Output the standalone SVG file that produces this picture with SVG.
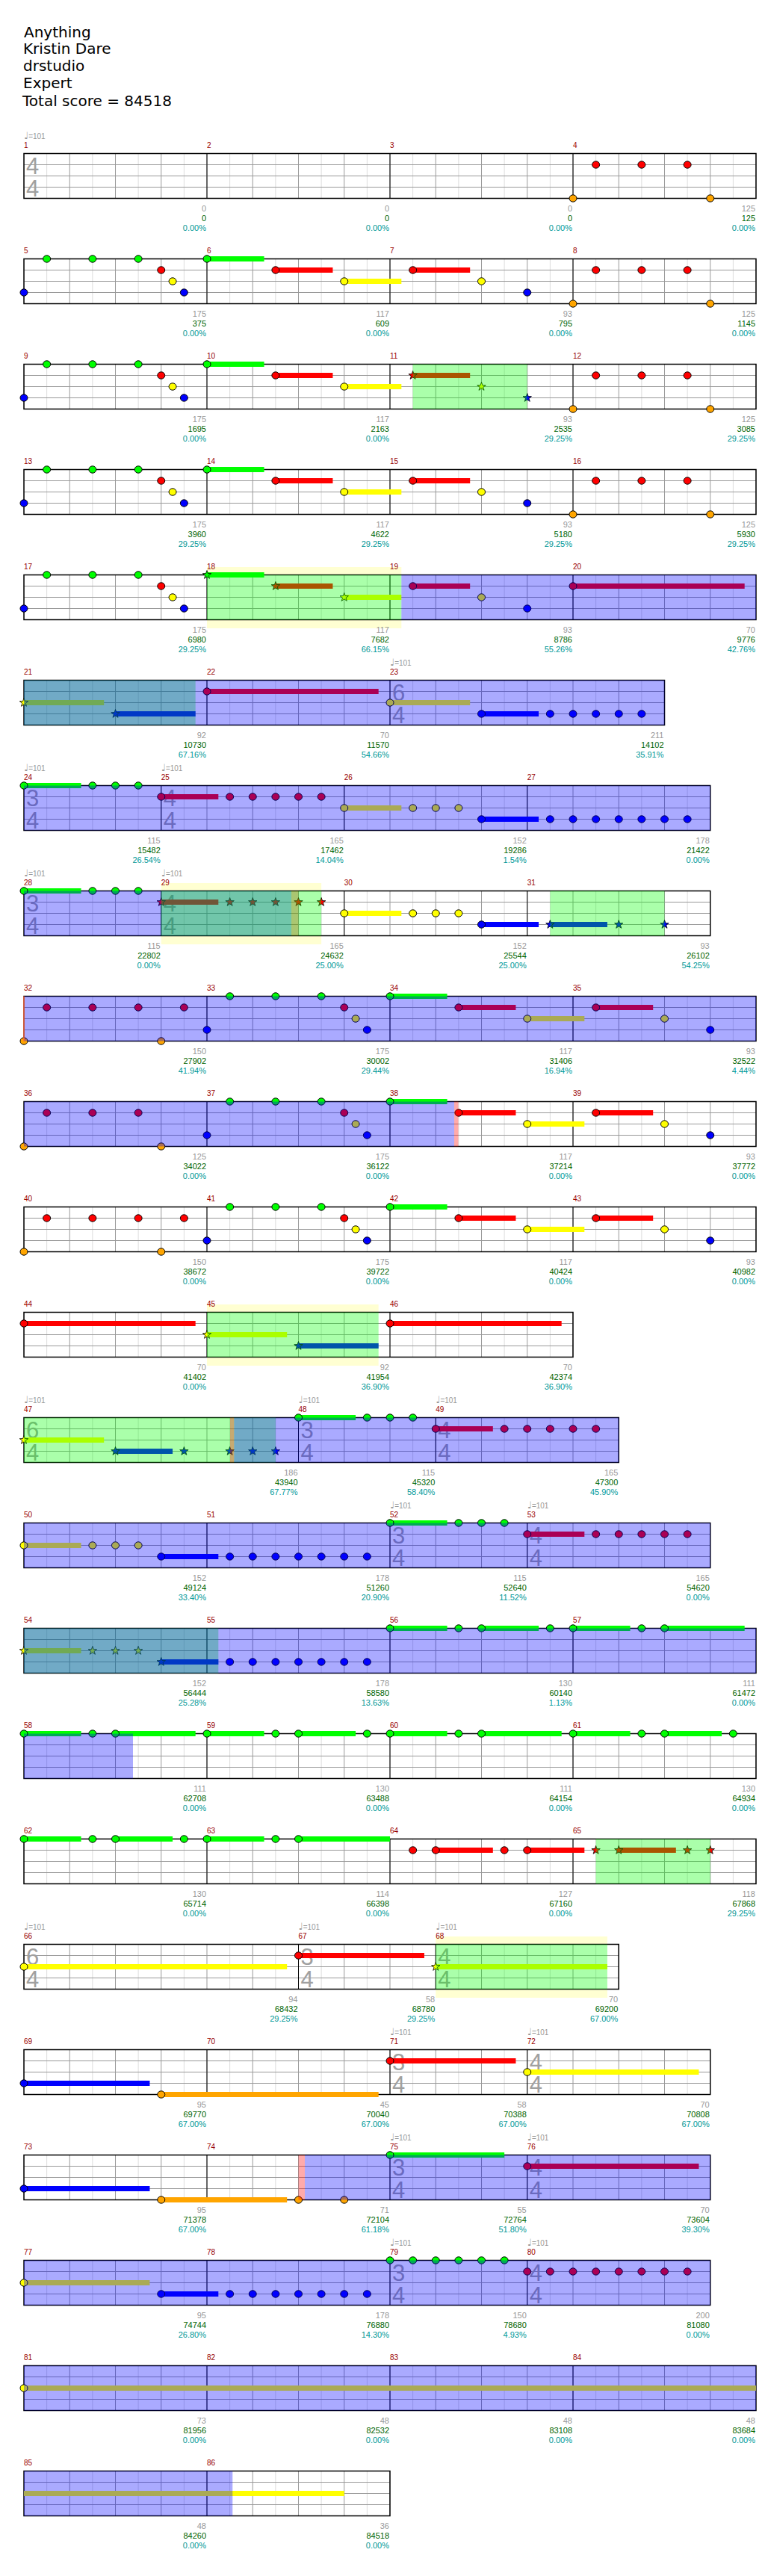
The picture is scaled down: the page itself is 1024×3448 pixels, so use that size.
<svg xmlns="http://www.w3.org/2000/svg" width="1024" height="3448" viewBox="0 0 1024 3448">
<style>
text{font-family:"Liberation Sans",Arial,sans-serif}
.ti{font-family:"DejaVu Sans",sans-serif;font-size:20px;fill:#000}
.bn{font-size:10px;fill:#990000}
.tp{font-size:10px;fill:#999}
.nq{font-family:"DejaVu Sans",sans-serif;font-size:13px}
.ts{font-size:31px;fill:#a0a0a0}
.la{font-size:11px;text-anchor:end}
.c1{fill:#999}.c2{fill:#006400}.c3{fill:#009999}
.st{fill:#fff}.gr{fill:url(#grid)}
.ln{stroke:#999;stroke-width:1;fill:none}
.ms{stroke:#000;stroke-width:1;fill:none}
.bd{fill:none;stroke:#000;stroke-width:1.5}
.G{fill:#0f0}.R{fill:#f00}.Y{fill:#ff0}.B{fill:#00f}.O{fill:#ffa500}
.og{fill:#0f0;fill-opacity:.333}
.ob{fill:#00f;fill-opacity:.333}
.or{fill:#f00;fill-opacity:.333}
.yb{fill:#ffffd2}
</style>
<defs>
<pattern id="grid" x="31.5" y="0" width="61.25" height="60" patternUnits="userSpaceOnUse">
<path d="M0.5 0V60" stroke="#999" stroke-width="1"/>
<path d="M31.125 0V60" stroke="#dcdcdc" stroke-width="1"/>
</pattern>
<ellipse id="n" rx="5" ry="4.7" stroke="#000" stroke-width="1"/>
<path id="s" d="M0 -6L1.41 -1.94L5.71 -1.85L2.28 0.74L3.53 4.85L0 2.4L-3.53 4.85L-2.28 0.74L-5.71 -1.85L-1.41 -1.94Z" stroke="#000" stroke-width=".8"/>
</defs>
<rect width="1024" height="3448" fill="#fff"/>
<g id="title">
<text class="ti" x="32" y="49.5">Anything</text>
<text class="ti" x="31" y="72">Kristin Dare</text>
<text class="ti" x="31" y="95">drstudio</text>
<text class="ti" x="31" y="118">Expert</text>
<text class="ti" x="30" y="141.5">Total score = 84518</text>
</g>

<g id="row1" transform="translate(0,205.5)">
<text class="tp" x="32" y="-20"><tspan class="nq">♩</tspan>=101</text>
<text class="bn" x="32" y="-8">1</text><text class="bn" x="277" y="-8">2</text><text class="bn" x="522" y="-8">3</text><text class="bn" x="767" y="-8">4</text>
<rect class="st" x="32" width="980" height="60"/><rect class="gr" x="32" width="980" height="60"/><path class="ln" d="M32 15H1012M32 30H1012M32 45H1012"/><path class="ms" d="M277 0V60M522 0V60M767 0V60"/><rect class="bd" x="32" width="980" height="60"/>
<text class="ts" x="35" y="27">4</text><text class="ts" x="35" y="57">4</text>
<use href="#n" x="797.63" y="15" class="R"/><use href="#n" x="858.88" y="15" class="R"/><use href="#n" x="920.13" y="15" class="R"/>
<use href="#n" x="767" y="60" class="O"/><use href="#n" x="950.75" y="60" class="O"/>
<text class="la c1" x="276" y="77">0</text><text class="la c2" x="276" y="90">0</text><text class="la c3" x="276" y="103">0.00%</text>
<text class="la c1" x="521" y="77">0</text><text class="la c2" x="521" y="90">0</text><text class="la c3" x="521" y="103">0.00%</text>
<text class="la c1" x="766" y="77">0</text><text class="la c2" x="766" y="90">0</text><text class="la c3" x="766" y="103">0.00%</text>
<text class="la c1" x="1011" y="77">125</text><text class="la c2" x="1011" y="90">125</text><text class="la c3" x="1011" y="103">0.00%</text>
</g>

<g id="row2" transform="translate(0,346.5)">
<text class="bn" x="32" y="-8">5</text><text class="bn" x="277" y="-8">6</text><text class="bn" x="522" y="-8">7</text><text class="bn" x="767" y="-8">8</text>
<rect class="st" x="32" width="980" height="60"/><rect class="gr" x="32" width="980" height="60"/><path class="ln" d="M32 15H1012M32 30H1012M32 45H1012"/><path class="ms" d="M277 0V60M522 0V60M767 0V60"/><rect class="bd" x="32" width="980" height="60"/>
<rect class="G" x="277" y="-3.5" width="76.56" height="7"/><rect class="R" x="368.88" y="11.5" width="76.56" height="7"/><rect class="R" x="552.63" y="11.5" width="76.56" height="7"/><rect class="Y" x="460.75" y="26.5" width="76.56" height="7"/>
<use href="#n" x="62.63" class="G"/><use href="#n" x="123.88" class="G"/><use href="#n" x="185.13" class="G"/><use href="#n" x="277" class="G"/>
<use href="#n" x="215.75" y="15" class="R"/><use href="#n" x="368.88" y="15" class="R"/><use href="#n" x="552.63" y="15" class="R"/><use href="#n" x="797.63" y="15" class="R"/><use href="#n" x="858.88" y="15" class="R"/><use href="#n" x="920.13" y="15" class="R"/>
<use href="#n" x="231.06" y="30" class="Y"/><use href="#n" x="460.75" y="30" class="Y"/><use href="#n" x="644.5" y="30" class="Y"/>
<use href="#n" x="32" y="45" class="B"/><use href="#n" x="246.38" y="45" class="B"/><use href="#n" x="705.75" y="45" class="B"/>
<use href="#n" x="767" y="60" class="O"/><use href="#n" x="950.75" y="60" class="O"/>
<text class="la c1" x="276" y="77">175</text><text class="la c2" x="276" y="90">375</text><text class="la c3" x="276" y="103">0.00%</text>
<text class="la c1" x="521" y="77">117</text><text class="la c2" x="521" y="90">609</text><text class="la c3" x="521" y="103">0.00%</text>
<text class="la c1" x="766" y="77">93</text><text class="la c2" x="766" y="90">795</text><text class="la c3" x="766" y="103">0.00%</text>
<text class="la c1" x="1011" y="77">125</text><text class="la c2" x="1011" y="90">1145</text><text class="la c3" x="1011" y="103">0.00%</text>
</g>

<g id="row3" transform="translate(0,487.5)">
<text class="bn" x="32" y="-8">9</text><text class="bn" x="277" y="-8">10</text><text class="bn" x="522" y="-8">11</text><text class="bn" x="767" y="-8">12</text>
<rect class="st" x="32" width="980" height="60"/><rect class="gr" x="32" width="980" height="60"/><path class="ln" d="M32 15H1012M32 30H1012M32 45H1012"/><path class="ms" d="M277 0V60M522 0V60M767 0V60"/><rect class="bd" x="32" width="980" height="60"/>
<rect class="G" x="277" y="-3.5" width="76.56" height="7"/><rect class="R" x="368.88" y="11.5" width="76.56" height="7"/><rect class="R" x="552.63" y="11.5" width="76.56" height="7"/><rect class="Y" x="460.75" y="26.5" width="76.56" height="7"/>
<use href="#n" x="62.63" class="G"/><use href="#n" x="123.88" class="G"/><use href="#n" x="185.13" class="G"/><use href="#n" x="277" class="G"/>
<use href="#n" x="215.75" y="15" class="R"/><use href="#n" x="368.88" y="15" class="R"/><use href="#s" x="552.63" y="15" class="R"/><use href="#n" x="797.63" y="15" class="R"/><use href="#n" x="858.88" y="15" class="R"/><use href="#n" x="920.13" y="15" class="R"/>
<use href="#n" x="231.06" y="30" class="Y"/><use href="#n" x="460.75" y="30" class="Y"/><use href="#s" x="644.5" y="30" class="Y"/>
<use href="#n" x="32" y="45" class="B"/><use href="#n" x="246.38" y="45" class="B"/><use href="#s" x="705.75" y="45" class="B"/>
<use href="#n" x="767" y="60" class="O"/><use href="#n" x="950.75" y="60" class="O"/>
<rect class="og" x="552.63" width="153.12" height="60"/>
<text class="la c1" x="276" y="77">175</text><text class="la c2" x="276" y="90">1695</text><text class="la c3" x="276" y="103">0.00%</text>
<text class="la c1" x="521" y="77">117</text><text class="la c2" x="521" y="90">2163</text><text class="la c3" x="521" y="103">0.00%</text>
<text class="la c1" x="766" y="77">93</text><text class="la c2" x="766" y="90">2535</text><text class="la c3" x="766" y="103">29.25%</text>
<text class="la c1" x="1011" y="77">125</text><text class="la c2" x="1011" y="90">3085</text><text class="la c3" x="1011" y="103">29.25%</text>
</g>

<g id="row4" transform="translate(0,628.5)">
<text class="bn" x="32" y="-8">13</text><text class="bn" x="277" y="-8">14</text><text class="bn" x="522" y="-8">15</text><text class="bn" x="767" y="-8">16</text>
<rect class="st" x="32" width="980" height="60"/><rect class="gr" x="32" width="980" height="60"/><path class="ln" d="M32 15H1012M32 30H1012M32 45H1012"/><path class="ms" d="M277 0V60M522 0V60M767 0V60"/><rect class="bd" x="32" width="980" height="60"/>
<rect class="G" x="277" y="-3.5" width="76.56" height="7"/><rect class="R" x="368.88" y="11.5" width="76.56" height="7"/><rect class="R" x="552.63" y="11.5" width="76.56" height="7"/><rect class="Y" x="460.75" y="26.5" width="76.56" height="7"/>
<use href="#n" x="62.63" class="G"/><use href="#n" x="123.88" class="G"/><use href="#n" x="185.13" class="G"/><use href="#n" x="277" class="G"/>
<use href="#n" x="215.75" y="15" class="R"/><use href="#n" x="368.88" y="15" class="R"/><use href="#n" x="552.63" y="15" class="R"/><use href="#n" x="797.63" y="15" class="R"/><use href="#n" x="858.88" y="15" class="R"/><use href="#n" x="920.13" y="15" class="R"/>
<use href="#n" x="231.06" y="30" class="Y"/><use href="#n" x="460.75" y="30" class="Y"/><use href="#n" x="644.5" y="30" class="Y"/>
<use href="#n" x="32" y="45" class="B"/><use href="#n" x="246.38" y="45" class="B"/><use href="#n" x="705.75" y="45" class="B"/>
<use href="#n" x="767" y="60" class="O"/><use href="#n" x="950.75" y="60" class="O"/>
<text class="la c1" x="276" y="77">175</text><text class="la c2" x="276" y="90">3960</text><text class="la c3" x="276" y="103">29.25%</text>
<text class="la c1" x="521" y="77">117</text><text class="la c2" x="521" y="90">4622</text><text class="la c3" x="521" y="103">29.25%</text>
<text class="la c1" x="766" y="77">93</text><text class="la c2" x="766" y="90">5180</text><text class="la c3" x="766" y="103">29.25%</text>
<text class="la c1" x="1011" y="77">125</text><text class="la c2" x="1011" y="90">5930</text><text class="la c3" x="1011" y="103">29.25%</text>
</g>

<g id="row5" transform="translate(0,769.5)">
<rect class="yb" x="277" y="-10.5" width="260.31" height="82"/>
<text class="bn" x="32" y="-8">17</text><text class="bn" x="277" y="-8">18</text><text class="bn" x="522" y="-8">19</text><text class="bn" x="767" y="-8">20</text>
<rect class="st" x="32" width="980" height="60"/><rect class="gr" x="32" width="980" height="60"/><path class="ln" d="M32 15H1012M32 30H1012M32 45H1012"/><path class="ms" d="M277 0V60M522 0V60M767 0V60"/><rect class="bd" x="32" width="980" height="60"/>
<rect class="G" x="277" y="-3.5" width="76.56" height="7"/><rect class="R" x="368.88" y="11.5" width="76.56" height="7"/><rect class="R" x="552.63" y="11.5" width="76.56" height="7"/><rect class="R" x="767" y="11.5" width="229.69" height="7"/><rect class="Y" x="460.75" y="26.5" width="76.56" height="7"/>
<use href="#n" x="62.63" class="G"/><use href="#n" x="123.88" class="G"/><use href="#n" x="185.13" class="G"/><use href="#s" x="277" class="G"/>
<use href="#n" x="215.75" y="15" class="R"/><use href="#s" x="368.88" y="15" class="R"/><use href="#n" x="552.63" y="15" class="R"/><use href="#n" x="767" y="15" class="R"/>
<use href="#n" x="231.06" y="30" class="Y"/><use href="#s" x="460.75" y="30" class="Y"/><use href="#n" x="644.5" y="30" class="Y"/>
<use href="#n" x="32" y="45" class="B"/><use href="#n" x="246.38" y="45" class="B"/><use href="#n" x="705.75" y="45" class="B"/>
<rect class="og" x="277" width="260.31" height="60"/><rect class="ob" x="537.31" width="474.69" height="60"/>
<text class="la c1" x="276" y="77">175</text><text class="la c2" x="276" y="90">6980</text><text class="la c3" x="276" y="103">29.25%</text>
<text class="la c1" x="521" y="77">117</text><text class="la c2" x="521" y="90">7682</text><text class="la c3" x="521" y="103">66.15%</text>
<text class="la c1" x="766" y="77">93</text><text class="la c2" x="766" y="90">8786</text><text class="la c3" x="766" y="103">55.26%</text>
<text class="la c1" x="1011" y="77">70</text><text class="la c2" x="1011" y="90">9776</text><text class="la c3" x="1011" y="103">42.76%</text>
</g>

<g id="row6" transform="translate(0,910.5)">
<text class="tp" x="522" y="-20"><tspan class="nq">♩</tspan>=101</text>
<text class="bn" x="32" y="-8">21</text><text class="bn" x="277" y="-8">22</text><text class="bn" x="522" y="-8">23</text>
<rect class="st" x="32" width="857.5" height="60"/><rect class="gr" x="32" width="857.5" height="60"/><path class="ln" d="M32 15H889.5M32 30H889.5M32 45H889.5"/><path class="ms" d="M277 0V60M522 0V60"/><rect class="bd" x="32" width="857.5" height="60"/>
<text class="ts" x="525" y="27">6</text><text class="ts" x="525" y="57">4</text>
<rect class="R" x="277" y="11.5" width="229.69" height="7"/><rect class="Y" x="32" y="26.5" width="107.19" height="7"/><rect class="Y" x="522" y="26.5" width="107.19" height="7"/><rect class="B" x="154.5" y="41.5" width="107.19" height="7"/><rect class="B" x="644.5" y="41.5" width="76.56" height="7"/>
<use href="#n" x="277" y="15" class="R"/>
<use href="#s" x="32" y="30" class="Y"/><use href="#n" x="522" y="30" class="Y"/>
<use href="#s" x="154.5" y="45" class="B"/><use href="#n" x="644.5" y="45" class="B"/><use href="#n" x="736.38" y="45" class="B"/><use href="#n" x="767" y="45" class="B"/><use href="#n" x="797.63" y="45" class="B"/><use href="#n" x="828.25" y="45" class="B"/><use href="#n" x="858.88" y="45" class="B"/>
<rect class="og" x="32" width="229.69" height="60"/><rect class="ob" x="32" width="857.5" height="60"/>
<text class="la c1" x="276" y="77">92</text><text class="la c2" x="276" y="90">10730</text><text class="la c3" x="276" y="103">67.16%</text>
<text class="la c1" x="521" y="77">70</text><text class="la c2" x="521" y="90">11570</text><text class="la c3" x="521" y="103">54.66%</text>
<text class="la c1" x="888.5" y="77">211</text><text class="la c2" x="888.5" y="90">14102</text><text class="la c3" x="888.5" y="103">35.91%</text>
</g>

<g id="row7" transform="translate(0,1051.5)">
<text class="tp" x="32" y="-20"><tspan class="nq">♩</tspan>=101</text><text class="tp" x="215.75" y="-20"><tspan class="nq">♩</tspan>=101</text>
<text class="bn" x="32" y="-8">24</text><text class="bn" x="215.75" y="-8">25</text><text class="bn" x="460.75" y="-8">26</text><text class="bn" x="705.75" y="-8">27</text>
<rect class="st" x="32" width="918.75" height="60"/><rect class="gr" x="32" width="918.75" height="60"/><path class="ln" d="M32 15H950.75M32 30H950.75M32 45H950.75"/><path class="ms" d="M215.75 0V60M460.75 0V60M705.75 0V60"/><rect class="bd" x="32" width="918.75" height="60"/>
<text class="ts" x="35" y="27">3</text><text class="ts" x="35" y="57">4</text><text class="ts" x="218.75" y="27">4</text><text class="ts" x="218.75" y="57">4</text>
<rect class="G" x="32" y="-3.5" width="76.56" height="7"/><rect class="R" x="215.75" y="11.5" width="76.56" height="7"/><rect class="Y" x="460.75" y="26.5" width="76.56" height="7"/><rect class="B" x="644.5" y="41.5" width="76.56" height="7"/>
<use href="#n" x="32" class="G"/><use href="#n" x="123.88" class="G"/><use href="#n" x="154.5" class="G"/><use href="#n" x="185.13" class="G"/>
<use href="#n" x="215.75" y="15" class="R"/><use href="#n" x="307.63" y="15" class="R"/><use href="#n" x="338.25" y="15" class="R"/><use href="#n" x="368.88" y="15" class="R"/><use href="#n" x="399.5" y="15" class="R"/><use href="#n" x="430.13" y="15" class="R"/>
<use href="#n" x="460.75" y="30" class="Y"/><use href="#n" x="552.63" y="30" class="Y"/><use href="#n" x="583.25" y="30" class="Y"/><use href="#n" x="613.88" y="30" class="Y"/>
<use href="#n" x="644.5" y="45" class="B"/><use href="#n" x="736.38" y="45" class="B"/><use href="#n" x="767" y="45" class="B"/><use href="#n" x="797.63" y="45" class="B"/><use href="#n" x="828.25" y="45" class="B"/><use href="#n" x="858.88" y="45" class="B"/><use href="#n" x="889.5" y="45" class="B"/><use href="#n" x="920.13" y="45" class="B"/>
<rect class="ob" x="32" width="918.75" height="60"/>
<text class="la c1" x="214.75" y="77">115</text><text class="la c2" x="214.75" y="90">15482</text><text class="la c3" x="214.75" y="103">26.54%</text>
<text class="la c1" x="459.75" y="77">165</text><text class="la c2" x="459.75" y="90">17462</text><text class="la c3" x="459.75" y="103">14.04%</text>
<text class="la c1" x="704.75" y="77">152</text><text class="la c2" x="704.75" y="90">19286</text><text class="la c3" x="704.75" y="103">1.54%</text>
<text class="la c1" x="949.75" y="77">178</text><text class="la c2" x="949.75" y="90">21422</text><text class="la c3" x="949.75" y="103">0.00%</text>
</g>

<g id="row8" transform="translate(0,1192.5)">
<rect class="yb" x="215.75" y="-10.5" width="214.38" height="82"/>
<text class="tp" x="32" y="-20"><tspan class="nq">♩</tspan>=101</text><text class="tp" x="215.75" y="-20"><tspan class="nq">♩</tspan>=101</text>
<text class="bn" x="32" y="-8">28</text><text class="bn" x="215.75" y="-8">29</text><text class="bn" x="460.75" y="-8">30</text><text class="bn" x="705.75" y="-8">31</text>
<rect class="st" x="32" width="918.75" height="60"/><rect class="gr" x="32" width="918.75" height="60"/><path class="ln" d="M32 15H950.75M32 30H950.75M32 45H950.75"/><path class="ms" d="M215.75 0V60M460.75 0V60M705.75 0V60"/><rect class="bd" x="32" width="918.75" height="60"/>
<text class="ts" x="35" y="27">3</text><text class="ts" x="35" y="57">4</text><text class="ts" x="218.75" y="27">4</text><text class="ts" x="218.75" y="57">4</text>
<rect class="G" x="32" y="-3.5" width="76.56" height="7"/><rect class="R" x="215.75" y="11.5" width="76.56" height="7"/><rect class="Y" x="460.75" y="26.5" width="76.56" height="7"/><rect class="B" x="644.5" y="41.5" width="76.56" height="7"/><rect class="B" x="736.38" y="41.5" width="76.56" height="7"/>
<use href="#n" x="32" class="G"/><use href="#n" x="123.88" class="G"/><use href="#n" x="154.5" class="G"/><use href="#n" x="185.13" class="G"/>
<use href="#s" x="215.75" y="15" class="R"/><use href="#s" x="307.63" y="15" class="R"/><use href="#s" x="338.25" y="15" class="R"/><use href="#s" x="368.88" y="15" class="R"/><use href="#s" x="399.5" y="15" class="R"/><use href="#s" x="430.13" y="15" class="R"/>
<use href="#n" x="460.75" y="30" class="Y"/><use href="#n" x="552.63" y="30" class="Y"/><use href="#n" x="583.25" y="30" class="Y"/><use href="#n" x="613.88" y="30" class="Y"/>
<use href="#n" x="644.5" y="45" class="B"/><use href="#s" x="736.38" y="45" class="B"/><use href="#s" x="828.25" y="45" class="B"/><use href="#s" x="889.5" y="45" class="B"/>
<rect class="ob" x="32" width="358" height="60"/><rect class="or" x="390" width="9.5" height="60"/><rect class="og" x="215.75" width="214.38" height="60"/><rect class="og" x="736.38" width="153.12" height="60"/>
<text class="la c1" x="214.75" y="77">115</text><text class="la c2" x="214.75" y="90">22802</text><text class="la c3" x="214.75" y="103">0.00%</text>
<text class="la c1" x="459.75" y="77">165</text><text class="la c2" x="459.75" y="90">24632</text><text class="la c3" x="459.75" y="103">25.00%</text>
<text class="la c1" x="704.75" y="77">152</text><text class="la c2" x="704.75" y="90">25544</text><text class="la c3" x="704.75" y="103">25.00%</text>
<text class="la c1" x="949.75" y="77">93</text><text class="la c2" x="949.75" y="90">26102</text><text class="la c3" x="949.75" y="103">54.25%</text>
</g>

<g id="row9" transform="translate(0,1333.5)">
<text class="bn" x="32" y="-8">32</text><text class="bn" x="277" y="-8">33</text><text class="bn" x="522" y="-8">34</text><text class="bn" x="767" y="-8">35</text>
<rect class="st" x="32" width="980" height="60"/><rect class="gr" x="32" width="980" height="60"/><path class="ln" d="M32 15H1012M32 30H1012M32 45H1012"/><path class="ms" d="M277 0V60M522 0V60M767 0V60"/><rect class="bd" x="32" width="980" height="60"/>
<rect class="G" x="522" y="-3.5" width="76.56" height="7"/><rect class="R" x="613.88" y="11.5" width="76.56" height="7"/><rect class="R" x="797.63" y="11.5" width="76.56" height="7"/><rect class="Y" x="705.75" y="26.5" width="76.56" height="7"/>
<use href="#n" x="307.63" class="G"/><use href="#n" x="368.88" class="G"/><use href="#n" x="430.13" class="G"/><use href="#n" x="522" class="G"/>
<use href="#n" x="62.63" y="15" class="R"/><use href="#n" x="123.88" y="15" class="R"/><use href="#n" x="185.13" y="15" class="R"/><use href="#n" x="246.38" y="15" class="R"/><use href="#n" x="460.75" y="15" class="R"/><use href="#n" x="613.88" y="15" class="R"/><use href="#n" x="797.63" y="15" class="R"/>
<use href="#n" x="476.06" y="30" class="Y"/><use href="#n" x="705.75" y="30" class="Y"/><use href="#n" x="889.5" y="30" class="Y"/>
<use href="#n" x="277" y="45" class="B"/><use href="#n" x="491.38" y="45" class="B"/><use href="#n" x="950.75" y="45" class="B"/>
<use href="#n" x="32" y="60" class="O"/><use href="#n" x="215.75" y="60" class="O"/>
<rect class="ob" x="32" width="980" height="60"/>
<path d="M32 0V60" stroke="#ff6633" stroke-width="1.5"/>
<text class="la c1" x="276" y="77">150</text><text class="la c2" x="276" y="90">27902</text><text class="la c3" x="276" y="103">41.94%</text>
<text class="la c1" x="521" y="77">175</text><text class="la c2" x="521" y="90">30002</text><text class="la c3" x="521" y="103">29.44%</text>
<text class="la c1" x="766" y="77">117</text><text class="la c2" x="766" y="90">31406</text><text class="la c3" x="766" y="103">16.94%</text>
<text class="la c1" x="1011" y="77">93</text><text class="la c2" x="1011" y="90">32522</text><text class="la c3" x="1011" y="103">4.44%</text>
</g>

<g id="row10" transform="translate(0,1474.5)">
<text class="bn" x="32" y="-8">36</text><text class="bn" x="277" y="-8">37</text><text class="bn" x="522" y="-8">38</text><text class="bn" x="767" y="-8">39</text>
<rect class="st" x="32" width="980" height="60"/><rect class="gr" x="32" width="980" height="60"/><path class="ln" d="M32 15H1012M32 30H1012M32 45H1012"/><path class="ms" d="M277 0V60M522 0V60M767 0V60"/><rect class="bd" x="32" width="980" height="60"/>
<rect class="G" x="522" y="-3.5" width="76.56" height="7"/><rect class="R" x="613.88" y="11.5" width="76.56" height="7"/><rect class="R" x="797.63" y="11.5" width="76.56" height="7"/><rect class="Y" x="705.75" y="26.5" width="76.56" height="7"/>
<use href="#n" x="307.63" class="G"/><use href="#n" x="368.88" class="G"/><use href="#n" x="430.13" class="G"/><use href="#n" x="522" class="G"/>
<use href="#n" x="62.63" y="15" class="R"/><use href="#n" x="123.88" y="15" class="R"/><use href="#n" x="185.13" y="15" class="R"/><use href="#n" x="460.75" y="15" class="R"/><use href="#n" x="613.88" y="15" class="R"/><use href="#n" x="797.63" y="15" class="R"/>
<use href="#n" x="476.06" y="30" class="Y"/><use href="#n" x="705.75" y="30" class="Y"/><use href="#n" x="889.5" y="30" class="Y"/>
<use href="#n" x="277" y="45" class="B"/><use href="#n" x="491.38" y="45" class="B"/><use href="#n" x="950.75" y="45" class="B"/>
<use href="#n" x="32" y="60" class="O"/><use href="#n" x="215.75" y="60" class="O"/>
<rect class="ob" x="32" width="576" height="60"/><rect class="or" x="608" width="5.5" height="60"/>
<text class="la c1" x="276" y="77">125</text><text class="la c2" x="276" y="90">34022</text><text class="la c3" x="276" y="103">0.00%</text>
<text class="la c1" x="521" y="77">175</text><text class="la c2" x="521" y="90">36122</text><text class="la c3" x="521" y="103">0.00%</text>
<text class="la c1" x="766" y="77">117</text><text class="la c2" x="766" y="90">37214</text><text class="la c3" x="766" y="103">0.00%</text>
<text class="la c1" x="1011" y="77">93</text><text class="la c2" x="1011" y="90">37772</text><text class="la c3" x="1011" y="103">0.00%</text>
</g>

<g id="row11" transform="translate(0,1615.5)">
<text class="bn" x="32" y="-8">40</text><text class="bn" x="277" y="-8">41</text><text class="bn" x="522" y="-8">42</text><text class="bn" x="767" y="-8">43</text>
<rect class="st" x="32" width="980" height="60"/><rect class="gr" x="32" width="980" height="60"/><path class="ln" d="M32 15H1012M32 30H1012M32 45H1012"/><path class="ms" d="M277 0V60M522 0V60M767 0V60"/><rect class="bd" x="32" width="980" height="60"/>
<rect class="G" x="522" y="-3.5" width="76.56" height="7"/><rect class="R" x="613.88" y="11.5" width="76.56" height="7"/><rect class="R" x="797.63" y="11.5" width="76.56" height="7"/><rect class="Y" x="705.75" y="26.5" width="76.56" height="7"/>
<use href="#n" x="307.63" class="G"/><use href="#n" x="368.88" class="G"/><use href="#n" x="430.13" class="G"/><use href="#n" x="522" class="G"/>
<use href="#n" x="62.63" y="15" class="R"/><use href="#n" x="123.88" y="15" class="R"/><use href="#n" x="185.13" y="15" class="R"/><use href="#n" x="246.38" y="15" class="R"/><use href="#n" x="460.75" y="15" class="R"/><use href="#n" x="613.88" y="15" class="R"/><use href="#n" x="797.63" y="15" class="R"/>
<use href="#n" x="476.06" y="30" class="Y"/><use href="#n" x="705.75" y="30" class="Y"/><use href="#n" x="889.5" y="30" class="Y"/>
<use href="#n" x="277" y="45" class="B"/><use href="#n" x="491.38" y="45" class="B"/><use href="#n" x="950.75" y="45" class="B"/>
<use href="#n" x="32" y="60" class="O"/><use href="#n" x="215.75" y="60" class="O"/>
<text class="la c1" x="276" y="77">150</text><text class="la c2" x="276" y="90">38672</text><text class="la c3" x="276" y="103">0.00%</text>
<text class="la c1" x="521" y="77">175</text><text class="la c2" x="521" y="90">39722</text><text class="la c3" x="521" y="103">0.00%</text>
<text class="la c1" x="766" y="77">117</text><text class="la c2" x="766" y="90">40424</text><text class="la c3" x="766" y="103">0.00%</text>
<text class="la c1" x="1011" y="77">93</text><text class="la c2" x="1011" y="90">40982</text><text class="la c3" x="1011" y="103">0.00%</text>
</g>

<g id="row12" transform="translate(0,1756.5)">
<rect class="yb" x="277" y="-10.5" width="229.69" height="82"/>
<text class="bn" x="32" y="-8">44</text><text class="bn" x="277" y="-8">45</text><text class="bn" x="522" y="-8">46</text>
<rect class="st" x="32" width="735" height="60"/><rect class="gr" x="32" width="735" height="60"/><path class="ln" d="M32 15H767M32 30H767M32 45H767"/><path class="ms" d="M277 0V60M522 0V60"/><rect class="bd" x="32" width="735" height="60"/>
<rect class="R" x="32" y="11.5" width="229.69" height="7"/><rect class="R" x="522" y="11.5" width="229.69" height="7"/><rect class="Y" x="277" y="26.5" width="107.19" height="7"/><rect class="B" x="399.5" y="41.5" width="107.19" height="7"/>
<use href="#n" x="32" y="15" class="R"/><use href="#n" x="522" y="15" class="R"/>
<use href="#s" x="277" y="30" class="Y"/><use href="#s" x="399.5" y="45" class="B"/>
<rect class="og" x="277" width="229.69" height="60"/>
<text class="la c1" x="276" y="77">70</text><text class="la c2" x="276" y="90">41402</text><text class="la c3" x="276" y="103">0.00%</text>
<text class="la c1" x="521" y="77">92</text><text class="la c2" x="521" y="90">41954</text><text class="la c3" x="521" y="103">36.90%</text>
<text class="la c1" x="766" y="77">70</text><text class="la c2" x="766" y="90">42374</text><text class="la c3" x="766" y="103">36.90%</text>
</g>

<g id="row13" transform="translate(0,1897.5)">
<text class="tp" x="32" y="-20"><tspan class="nq">♩</tspan>=101</text><text class="tp" x="399.5" y="-20"><tspan class="nq">♩</tspan>=101</text><text class="tp" x="583.25" y="-20"><tspan class="nq">♩</tspan>=101</text>
<text class="bn" x="32" y="-8">47</text><text class="bn" x="399.5" y="-8">48</text><text class="bn" x="583.25" y="-8">49</text>
<rect class="st" x="32" width="796.25" height="60"/><rect class="gr" x="32" width="796.25" height="60"/><path class="ln" d="M32 15H828.25M32 30H828.25M32 45H828.25"/><path class="ms" d="M399.5 0V60M583.25 0V60"/><rect class="bd" x="32" width="796.25" height="60"/>
<text class="ts" x="35" y="27">6</text><text class="ts" x="35" y="57">4</text><text class="ts" x="402.5" y="27">3</text><text class="ts" x="402.5" y="57">4</text><text class="ts" x="586.25" y="27">4</text><text class="ts" x="586.25" y="57">4</text>
<rect class="G" x="399.5" y="-3.5" width="76.56" height="7"/><rect class="R" x="583.25" y="11.5" width="76.56" height="7"/><rect class="Y" x="32" y="26.5" width="107.19" height="7"/><rect class="B" x="154.5" y="41.5" width="76.56" height="7"/>
<use href="#n" x="399.5" class="G"/><use href="#n" x="491.38" class="G"/><use href="#n" x="522" class="G"/><use href="#n" x="552.63" class="G"/>
<use href="#n" x="583.25" y="15" class="R"/><use href="#n" x="675.13" y="15" class="R"/><use href="#n" x="705.75" y="15" class="R"/><use href="#n" x="736.38" y="15" class="R"/><use href="#n" x="767" y="15" class="R"/><use href="#n" x="797.63" y="15" class="R"/>
<use href="#s" x="32" y="30" class="Y"/>
<use href="#s" x="154.5" y="45" class="B"/><use href="#s" x="246.38" y="45" class="B"/><use href="#s" x="307.63" y="45" class="B"/><use href="#s" x="338.25" y="45" class="B"/><use href="#s" x="368.88" y="45" class="B"/>
<rect class="og" x="32" width="336.88" height="60"/><rect class="or" x="308" width="5.3" height="60"/><rect class="ob" x="313.3" width="514.95" height="60"/>
<text class="la c1" x="398.5" y="77">186</text><text class="la c2" x="398.5" y="90">43940</text><text class="la c3" x="398.5" y="103">67.77%</text>
<text class="la c1" x="582.25" y="77">115</text><text class="la c2" x="582.25" y="90">45320</text><text class="la c3" x="582.25" y="103">58.40%</text>
<text class="la c1" x="827.25" y="77">165</text><text class="la c2" x="827.25" y="90">47300</text><text class="la c3" x="827.25" y="103">45.90%</text>
</g>

<g id="row14" transform="translate(0,2038.5)">
<text class="tp" x="522" y="-20"><tspan class="nq">♩</tspan>=101</text><text class="tp" x="705.75" y="-20"><tspan class="nq">♩</tspan>=101</text>
<text class="bn" x="32" y="-8">50</text><text class="bn" x="277" y="-8">51</text><text class="bn" x="522" y="-8">52</text><text class="bn" x="705.75" y="-8">53</text>
<rect class="st" x="32" width="918.75" height="60"/><rect class="gr" x="32" width="918.75" height="60"/><path class="ln" d="M32 15H950.75M32 30H950.75M32 45H950.75"/><path class="ms" d="M277 0V60M522 0V60M705.75 0V60"/><rect class="bd" x="32" width="918.75" height="60"/>
<text class="ts" x="525" y="27">3</text><text class="ts" x="525" y="57">4</text><text class="ts" x="708.75" y="27">4</text><text class="ts" x="708.75" y="57">4</text>
<rect class="G" x="522" y="-3.5" width="76.56" height="7"/><rect class="R" x="705.75" y="11.5" width="76.56" height="7"/><rect class="Y" x="32" y="26.5" width="76.56" height="7"/><rect class="B" x="215.75" y="41.5" width="76.56" height="7"/>
<use href="#n" x="522" class="G"/><use href="#n" x="613.88" class="G"/><use href="#n" x="644.5" class="G"/><use href="#n" x="675.13" class="G"/>
<use href="#n" x="705.75" y="15" class="R"/><use href="#n" x="797.63" y="15" class="R"/><use href="#n" x="828.25" y="15" class="R"/><use href="#n" x="858.88" y="15" class="R"/><use href="#n" x="889.5" y="15" class="R"/><use href="#n" x="920.13" y="15" class="R"/>
<use href="#n" x="32" y="30" class="Y"/><use href="#n" x="123.88" y="30" class="Y"/><use href="#n" x="154.5" y="30" class="Y"/><use href="#n" x="185.13" y="30" class="Y"/>
<use href="#n" x="215.75" y="45" class="B"/><use href="#n" x="307.63" y="45" class="B"/><use href="#n" x="338.25" y="45" class="B"/><use href="#n" x="368.88" y="45" class="B"/><use href="#n" x="399.5" y="45" class="B"/><use href="#n" x="430.13" y="45" class="B"/><use href="#n" x="460.75" y="45" class="B"/><use href="#n" x="491.38" y="45" class="B"/>
<rect class="ob" x="32" width="918.75" height="60"/>
<text class="la c1" x="276" y="77">152</text><text class="la c2" x="276" y="90">49124</text><text class="la c3" x="276" y="103">33.40%</text>
<text class="la c1" x="521" y="77">178</text><text class="la c2" x="521" y="90">51260</text><text class="la c3" x="521" y="103">20.90%</text>
<text class="la c1" x="704.75" y="77">115</text><text class="la c2" x="704.75" y="90">52640</text><text class="la c3" x="704.75" y="103">11.52%</text>
<text class="la c1" x="949.75" y="77">165</text><text class="la c2" x="949.75" y="90">54620</text><text class="la c3" x="949.75" y="103">0.00%</text>
</g>

<g id="row15" transform="translate(0,2179.5)">
<text class="bn" x="32" y="-8">54</text><text class="bn" x="277" y="-8">55</text><text class="bn" x="522" y="-8">56</text><text class="bn" x="767" y="-8">57</text>
<rect class="st" x="32" width="980" height="60"/><rect class="gr" x="32" width="980" height="60"/><path class="ln" d="M32 15H1012M32 30H1012M32 45H1012"/><path class="ms" d="M277 0V60M522 0V60M767 0V60"/><rect class="bd" x="32" width="980" height="60"/>
<rect class="Y" x="32" y="26.5" width="76.56" height="7"/><rect class="B" x="215.75" y="41.5" width="76.56" height="7"/><rect class="G" x="522" y="-3.5" width="76.56" height="7"/><rect class="G" x="644.5" y="-3.5" width="76.56" height="7"/><rect class="G" x="767" y="-3.5" width="76.56" height="7"/><rect class="G" x="889.5" y="-3.5" width="107.19" height="7"/>
<use href="#s" x="32" y="30" class="Y"/><use href="#s" x="123.88" y="30" class="Y"/><use href="#s" x="154.5" y="30" class="Y"/><use href="#s" x="185.13" y="30" class="Y"/>
<use href="#s" x="215.75" y="45" class="B"/><use href="#n" x="307.63" y="45" class="B"/><use href="#n" x="338.25" y="45" class="B"/><use href="#n" x="368.88" y="45" class="B"/><use href="#n" x="399.5" y="45" class="B"/><use href="#n" x="430.13" y="45" class="B"/><use href="#n" x="460.75" y="45" class="B"/><use href="#n" x="491.38" y="45" class="B"/>
<use href="#n" x="522" class="G"/><use href="#n" x="613.88" class="G"/><use href="#n" x="644.5" class="G"/><use href="#n" x="736.38" class="G"/><use href="#n" x="767" class="G"/><use href="#n" x="858.88" class="G"/><use href="#n" x="889.5" class="G"/>
<rect class="og" x="32" width="260.31" height="60"/><rect class="ob" x="32" width="980" height="60"/>
<text class="la c1" x="276" y="77">152</text><text class="la c2" x="276" y="90">56444</text><text class="la c3" x="276" y="103">25.28%</text>
<text class="la c1" x="521" y="77">178</text><text class="la c2" x="521" y="90">58580</text><text class="la c3" x="521" y="103">13.63%</text>
<text class="la c1" x="766" y="77">130</text><text class="la c2" x="766" y="90">60140</text><text class="la c3" x="766" y="103">1.13%</text>
<text class="la c1" x="1011" y="77">111</text><text class="la c2" x="1011" y="90">61472</text><text class="la c3" x="1011" y="103">0.00%</text>
</g>

<g id="row16" transform="translate(0,2320.5)">
<text class="bn" x="32" y="-8">58</text><text class="bn" x="277" y="-8">59</text><text class="bn" x="522" y="-8">60</text><text class="bn" x="767" y="-8">61</text>
<rect class="st" x="32" width="980" height="60"/><rect class="gr" x="32" width="980" height="60"/><path class="ln" d="M32 15H1012M32 30H1012M32 45H1012"/><path class="ms" d="M277 0V60M522 0V60M767 0V60"/><rect class="bd" x="32" width="980" height="60"/>
<rect class="G" x="32" y="-3.5" width="76.56" height="7"/><rect class="G" x="154.5" y="-3.5" width="107.19" height="7"/><rect class="G" x="277" y="-3.5" width="76.56" height="7"/><rect class="G" x="399.5" y="-3.5" width="76.56" height="7"/><rect class="G" x="522" y="-3.5" width="76.56" height="7"/><rect class="G" x="644.5" y="-3.5" width="107.19" height="7"/><rect class="G" x="767" y="-3.5" width="76.56" height="7"/><rect class="G" x="889.5" y="-3.5" width="76.56" height="7"/>
<use href="#n" x="32" class="G"/><use href="#n" x="123.88" class="G"/><use href="#n" x="154.5" class="G"/><use href="#n" x="277" class="G"/><use href="#n" x="368.88" class="G"/><use href="#n" x="399.5" class="G"/><use href="#n" x="491.38" class="G"/><use href="#n" x="522" class="G"/><use href="#n" x="613.88" class="G"/><use href="#n" x="644.5" class="G"/><use href="#n" x="767" class="G"/><use href="#n" x="858.88" class="G"/><use href="#n" x="889.5" class="G"/><use href="#n" x="981.38" class="G"/>
<rect class="ob" x="32" width="146" height="60"/>
<text class="la c1" x="276" y="77">111</text><text class="la c2" x="276" y="90">62708</text><text class="la c3" x="276" y="103">0.00%</text>
<text class="la c1" x="521" y="77">130</text><text class="la c2" x="521" y="90">63488</text><text class="la c3" x="521" y="103">0.00%</text>
<text class="la c1" x="766" y="77">111</text><text class="la c2" x="766" y="90">64154</text><text class="la c3" x="766" y="103">0.00%</text>
<text class="la c1" x="1011" y="77">130</text><text class="la c2" x="1011" y="90">64934</text><text class="la c3" x="1011" y="103">0.00%</text>
</g>

<g id="row17" transform="translate(0,2461.5)">
<text class="bn" x="32" y="-8">62</text><text class="bn" x="277" y="-8">63</text><text class="bn" x="522" y="-8">64</text><text class="bn" x="767" y="-8">65</text>
<rect class="st" x="32" width="980" height="60"/><rect class="gr" x="32" width="980" height="60"/><path class="ln" d="M32 15H1012M32 30H1012M32 45H1012"/><path class="ms" d="M277 0V60M522 0V60M767 0V60"/><rect class="bd" x="32" width="980" height="60"/>
<rect class="G" x="32" y="-3.5" width="76.56" height="7"/><rect class="G" x="154.5" y="-3.5" width="76.56" height="7"/><rect class="G" x="277" y="-3.5" width="76.56" height="7"/><rect class="G" x="399.5" y="-3.5" width="122.5" height="7"/>
<rect class="R" x="583.25" y="11.5" width="76.56" height="7"/><rect class="R" x="705.75" y="11.5" width="76.56" height="7"/><rect class="R" x="828.25" y="11.5" width="76.56" height="7"/>
<use href="#n" x="32" class="G"/><use href="#n" x="123.88" class="G"/><use href="#n" x="154.5" class="G"/><use href="#n" x="246.38" class="G"/><use href="#n" x="277" class="G"/><use href="#n" x="368.88" class="G"/><use href="#n" x="399.5" class="G"/>
<use href="#n" x="552.63" y="15" class="R"/><use href="#n" x="583.25" y="15" class="R"/><use href="#n" x="675.13" y="15" class="R"/><use href="#n" x="705.75" y="15" class="R"/><use href="#s" x="797.63" y="15" class="R"/><use href="#s" x="828.25" y="15" class="R"/><use href="#s" x="920.13" y="15" class="R"/><use href="#s" x="950.75" y="15" class="R"/>
<rect class="og" x="797.63" width="153.12" height="60"/>
<text class="la c1" x="276" y="77">130</text><text class="la c2" x="276" y="90">65714</text><text class="la c3" x="276" y="103">0.00%</text>
<text class="la c1" x="521" y="77">114</text><text class="la c2" x="521" y="90">66398</text><text class="la c3" x="521" y="103">0.00%</text>
<text class="la c1" x="766" y="77">127</text><text class="la c2" x="766" y="90">67160</text><text class="la c3" x="766" y="103">0.00%</text>
<text class="la c1" x="1011" y="77">118</text><text class="la c2" x="1011" y="90">67868</text><text class="la c3" x="1011" y="103">29.25%</text>
</g>

<g id="row18" transform="translate(0,2602.5)">
<rect class="yb" x="583.25" y="-10.5" width="229.69" height="82"/>
<text class="tp" x="32" y="-20"><tspan class="nq">♩</tspan>=101</text><text class="tp" x="399.5" y="-20"><tspan class="nq">♩</tspan>=101</text><text class="tp" x="583.25" y="-20"><tspan class="nq">♩</tspan>=101</text>
<text class="bn" x="32" y="-8">66</text><text class="bn" x="399.5" y="-8">67</text><text class="bn" x="583.25" y="-8">68</text>
<rect class="st" x="32" width="796.25" height="60"/><rect class="gr" x="32" width="796.25" height="60"/><path class="ln" d="M32 15H828.25M32 30H828.25M32 45H828.25"/><path class="ms" d="M399.5 0V60M583.25 0V60"/><rect class="bd" x="32" width="796.25" height="60"/>
<text class="ts" x="35" y="27">6</text><text class="ts" x="35" y="57">4</text><text class="ts" x="402.5" y="27">3</text><text class="ts" x="402.5" y="57">4</text><text class="ts" x="586.25" y="27">4</text><text class="ts" x="586.25" y="57">4</text>
<rect class="Y" x="32" y="26.5" width="352.19" height="7"/><rect class="R" x="399.5" y="11.5" width="168.44" height="7"/><rect class="Y" x="583.25" y="26.5" width="229.69" height="7"/>
<use href="#n" x="32" y="30" class="Y"/><use href="#n" x="399.5" y="15" class="R"/><use href="#s" x="583.25" y="30" class="Y"/>
<rect class="og" x="583.25" width="229.69" height="60"/>
<text class="la c1" x="398.5" y="77">94</text><text class="la c2" x="398.5" y="90">68432</text><text class="la c3" x="398.5" y="103">29.25%</text>
<text class="la c1" x="582.25" y="77">58</text><text class="la c2" x="582.25" y="90">68780</text><text class="la c3" x="582.25" y="103">29.25%</text>
<text class="la c1" x="827.25" y="77">70</text><text class="la c2" x="827.25" y="90">69200</text><text class="la c3" x="827.25" y="103">67.00%</text>
</g>

<g id="row19" transform="translate(0,2743.5)">
<text class="tp" x="522" y="-20"><tspan class="nq">♩</tspan>=101</text><text class="tp" x="705.75" y="-20"><tspan class="nq">♩</tspan>=101</text>
<text class="bn" x="32" y="-8">69</text><text class="bn" x="277" y="-8">70</text><text class="bn" x="522" y="-8">71</text><text class="bn" x="705.75" y="-8">72</text>
<rect class="st" x="32" width="918.75" height="60"/><rect class="gr" x="32" width="918.75" height="60"/><path class="ln" d="M32 15H950.75M32 30H950.75M32 45H950.75"/><path class="ms" d="M277 0V60M522 0V60M705.75 0V60"/><rect class="bd" x="32" width="918.75" height="60"/>
<text class="ts" x="525" y="27">3</text><text class="ts" x="525" y="57">4</text><text class="ts" x="708.75" y="27">4</text><text class="ts" x="708.75" y="57">4</text>
<rect class="B" x="32" y="41.5" width="168.44" height="7"/><rect class="O" x="215.75" y="56.5" width="290.94" height="7"/><rect class="R" x="522" y="11.5" width="168.44" height="7"/><rect class="Y" x="705.75" y="26.5" width="229.69" height="7"/>
<use href="#n" x="32" y="45" class="B"/><use href="#n" x="215.75" y="60" class="O"/><use href="#n" x="522" y="15" class="R"/><use href="#n" x="705.75" y="30" class="Y"/>
<text class="la c1" x="276" y="77">95</text><text class="la c2" x="276" y="90">69770</text><text class="la c3" x="276" y="103">67.00%</text>
<text class="la c1" x="521" y="77">45</text><text class="la c2" x="521" y="90">70040</text><text class="la c3" x="521" y="103">67.00%</text>
<text class="la c1" x="704.75" y="77">58</text><text class="la c2" x="704.75" y="90">70388</text><text class="la c3" x="704.75" y="103">67.00%</text>
<text class="la c1" x="949.75" y="77">70</text><text class="la c2" x="949.75" y="90">70808</text><text class="la c3" x="949.75" y="103">67.00%</text>
</g>

<g id="row20" transform="translate(0,2884.5)">
<text class="tp" x="522" y="-20"><tspan class="nq">♩</tspan>=101</text><text class="tp" x="705.75" y="-20"><tspan class="nq">♩</tspan>=101</text>
<text class="bn" x="32" y="-8">73</text><text class="bn" x="277" y="-8">74</text><text class="bn" x="522" y="-8">75</text><text class="bn" x="705.75" y="-8">76</text>
<rect class="st" x="32" width="918.75" height="60"/><rect class="gr" x="32" width="918.75" height="60"/><path class="ln" d="M32 15H950.75M32 30H950.75M32 45H950.75"/><path class="ms" d="M277 0V60M522 0V60M705.75 0V60"/><rect class="bd" x="32" width="918.75" height="60"/>
<text class="ts" x="525" y="27">3</text><text class="ts" x="525" y="57">4</text><text class="ts" x="708.75" y="27">4</text><text class="ts" x="708.75" y="57">4</text>
<rect class="B" x="32" y="41.5" width="168.44" height="7"/><rect class="O" x="215.75" y="56.5" width="168.44" height="7"/><rect class="G" x="522" y="-3.5" width="153.13" height="7"/><rect class="R" x="705.75" y="11.5" width="229.69" height="7"/>
<use href="#n" x="32" y="45" class="B"/><use href="#n" x="215.75" y="60" class="O"/><use href="#n" x="399.5" y="60" class="O"/><use href="#n" x="460.75" y="60" class="O"/><use href="#n" x="522" class="G"/><use href="#n" x="705.75" y="15" class="R"/>
<rect class="or" x="399.5" width="8.5" height="60"/><rect class="ob" x="408" width="542.75" height="60"/>
<text class="la c1" x="276" y="77">95</text><text class="la c2" x="276" y="90">71378</text><text class="la c3" x="276" y="103">67.00%</text>
<text class="la c1" x="521" y="77">71</text><text class="la c2" x="521" y="90">72104</text><text class="la c3" x="521" y="103">61.18%</text>
<text class="la c1" x="704.75" y="77">55</text><text class="la c2" x="704.75" y="90">72764</text><text class="la c3" x="704.75" y="103">51.80%</text>
<text class="la c1" x="949.75" y="77">70</text><text class="la c2" x="949.75" y="90">73604</text><text class="la c3" x="949.75" y="103">39.30%</text>
</g>

<g id="row21" transform="translate(0,3025.5)">
<text class="tp" x="522" y="-20"><tspan class="nq">♩</tspan>=101</text><text class="tp" x="705.75" y="-20"><tspan class="nq">♩</tspan>=101</text>
<text class="bn" x="32" y="-8">77</text><text class="bn" x="277" y="-8">78</text><text class="bn" x="522" y="-8">79</text><text class="bn" x="705.75" y="-8">80</text>
<rect class="st" x="32" width="918.75" height="60"/><rect class="gr" x="32" width="918.75" height="60"/><path class="ln" d="M32 15H950.75M32 30H950.75M32 45H950.75"/><path class="ms" d="M277 0V60M522 0V60M705.75 0V60"/><rect class="bd" x="32" width="918.75" height="60"/>
<text class="ts" x="525" y="27">3</text><text class="ts" x="525" y="57">4</text><text class="ts" x="708.75" y="27">4</text><text class="ts" x="708.75" y="57">4</text>
<rect class="Y" x="32" y="26.5" width="168.44" height="7"/><rect class="B" x="215.75" y="41.5" width="76.56" height="7"/>
<use href="#n" x="32" y="30" class="Y"/>
<use href="#n" x="215.75" y="45" class="B"/><use href="#n" x="307.63" y="45" class="B"/><use href="#n" x="338.25" y="45" class="B"/><use href="#n" x="368.88" y="45" class="B"/><use href="#n" x="399.5" y="45" class="B"/><use href="#n" x="430.13" y="45" class="B"/><use href="#n" x="460.75" y="45" class="B"/><use href="#n" x="491.38" y="45" class="B"/>
<use href="#n" x="522" class="G"/><use href="#n" x="552.63" class="G"/><use href="#n" x="583.25" class="G"/><use href="#n" x="613.88" class="G"/><use href="#n" x="644.5" class="G"/><use href="#n" x="675.13" class="G"/>
<use href="#n" x="705.75" y="15" class="R"/><use href="#n" x="736.38" y="15" class="R"/><use href="#n" x="767" y="15" class="R"/><use href="#n" x="797.63" y="15" class="R"/><use href="#n" x="828.25" y="15" class="R"/><use href="#n" x="858.88" y="15" class="R"/><use href="#n" x="889.5" y="15" class="R"/><use href="#n" x="920.13" y="15" class="R"/>
<rect class="ob" x="32" width="918.75" height="60"/>
<text class="la c1" x="276" y="77">95</text><text class="la c2" x="276" y="90">74744</text><text class="la c3" x="276" y="103">26.80%</text>
<text class="la c1" x="521" y="77">178</text><text class="la c2" x="521" y="90">76880</text><text class="la c3" x="521" y="103">14.30%</text>
<text class="la c1" x="704.75" y="77">150</text><text class="la c2" x="704.75" y="90">78680</text><text class="la c3" x="704.75" y="103">4.93%</text>
<text class="la c1" x="949.75" y="77">200</text><text class="la c2" x="949.75" y="90">81080</text><text class="la c3" x="949.75" y="103">0.00%</text>
</g>

<g id="row22" transform="translate(0,3166.5)">
<text class="bn" x="32" y="-8">81</text><text class="bn" x="277" y="-8">82</text><text class="bn" x="522" y="-8">83</text><text class="bn" x="767" y="-8">84</text>
<rect class="st" x="32" width="980" height="60"/><rect class="gr" x="32" width="980" height="60"/><path class="ln" d="M32 15H1012M32 30H1012M32 45H1012"/><path class="ms" d="M277 0V60M522 0V60M767 0V60"/><rect class="bd" x="32" width="980" height="60"/>
<rect class="Y" x="32" y="26.5" width="980" height="7"/>
<use href="#n" x="32" y="30" class="Y"/>
<rect class="ob" x="32" width="980" height="60"/>
<text class="la c1" x="276" y="77">73</text><text class="la c2" x="276" y="90">81956</text><text class="la c3" x="276" y="103">0.00%</text>
<text class="la c1" x="521" y="77">48</text><text class="la c2" x="521" y="90">82532</text><text class="la c3" x="521" y="103">0.00%</text>
<text class="la c1" x="766" y="77">48</text><text class="la c2" x="766" y="90">83108</text><text class="la c3" x="766" y="103">0.00%</text>
<text class="la c1" x="1011" y="77">48</text><text class="la c2" x="1011" y="90">83684</text><text class="la c3" x="1011" y="103">0.00%</text>
</g>

<g id="row23" transform="translate(0,3307.5)">
<text class="bn" x="32" y="-8">85</text><text class="bn" x="277" y="-8">86</text>
<rect class="st" x="32" width="490" height="60"/><rect class="gr" x="32" width="490" height="60"/><path class="ln" d="M32 15H522M32 30H522M32 45H522"/><path class="ms" d="M277 0V60"/><rect class="bd" x="32" width="490" height="60"/>
<rect class="Y" x="32" y="26.5" width="428.75" height="7"/>
<rect class="ob" x="32" width="279.3" height="60"/>
<text class="la c1" x="276" y="77">48</text><text class="la c2" x="276" y="90">84260</text><text class="la c3" x="276" y="103">0.00%</text>
<text class="la c1" x="521" y="77">36</text><text class="la c2" x="521" y="90">84518</text><text class="la c3" x="521" y="103">0.00%</text>
</g>
</svg>
